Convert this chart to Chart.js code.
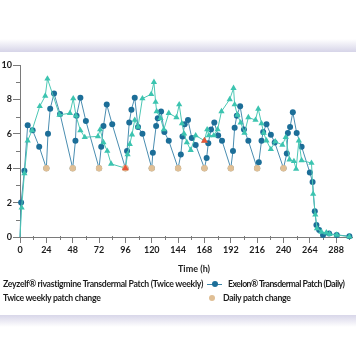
<!DOCTYPE html>
<html><head><meta charset="utf-8">
<script src="https://cdn.jsdelivr.net/npm/chart.js@4"></script>
<style>
html,body{margin:0;padding:0;background:#fff;width:356px;height:364px;overflow:hidden;position:relative;font-family:Lato,"Open Sans",sans-serif;}
#bandTop{position:absolute;left:0;top:39px;width:356px;height:13px;background:linear-gradient(#ffffff,#d6d4e8);}
#bandBot{position:absolute;left:0;top:315px;width:356px;height:12px;background:linear-gradient(#d8d6e9,#ffffff);}
#wrap{position:absolute;left:0;top:0;width:356px;height:364px;}
.t{position:absolute;white-space:nowrap;font-weight:bold;color:#1d1d1d;font-size:8.7px;line-height:10px;letter-spacing:-0.3px;}
.mk{position:absolute;}
</style></head><body>
<div id="bandTop"></div>
<div id="bandBot"></div>
<div id="wrap"><canvas id="c" width="356" height="364"></canvas></div>
<div class="t" style="left:178px;top:264px;font-size:9px;letter-spacing:0">Time (h)</div>
<div class="t" style="left:3px;top:279px">Zeyzelf® rivastigmine Transdermal Patch (Twice weekly)</div>
<div class="mk" style="left:207px;top:283.5px;width:15px;height:1px;background:#3f86a8"></div>
<div class="mk" style="left:211.5px;top:281px;width:6px;height:6px;border-radius:50%;background:#1c6e98"></div>
<div class="t" style="left:228px;top:279px;letter-spacing:-0.5px">Exelon® Transdermal Patch (Daily)</div>
<div class="t" style="left:3px;top:293px">Twice weekly patch change</div>
<div class="mk" style="left:208.5px;top:295px;width:6px;height:6px;border-radius:50%;background:#e0bf95"></div>
<div class="t" style="left:223px;top:293px">Daily patch change</div>
<script>
const zeyTimes = [0,1.5,4,7,11,18,23,25,36,45.5,48.5,51,55,59,71,73,76,79.5,83,96,98,100,102,104.5,107.5,111.5,119.5,122,123.5,124.5,128,131,135.5,142.5,145,147.5,149.5,152,155.5,160,168,170.5,172,176.5,180,183.5,191,194.5,195.5,198,201,204.5,208,214.5,217,220,222,224.5,228.5,232.5,239,242,245.5,249.5,251.5,254,256.5,265.5,267,269,270.5,274.5,279,282,288.5,300];
const zeyValues = [0,1.7,3.7,5.6,6.2,7.6,8.2,9.2,7.1,7.2,8.05,7.05,6.2,5.8,5.85,6.25,5.5,5.0,4.25,4.0,4.8,5.4,5.95,6.8,6.4,8.05,8.3,9.0,7.85,7.3,6.9,6.25,7.2,6.95,7.7,6.6,6.0,5.5,5.05,5.9,5.6,6.25,5.9,5.9,6.25,7.3,8.0,8.65,7.7,7.1,6.65,6.05,6.95,6.8,7.45,6.6,6.05,5.6,5.1,5.55,5.35,5.8,4.5,4.4,3.95,5.6,4.45,4.3,2.5,1.3,0.5,0.3,0.25,0.17,0.12,0.02];
const exTimes = [0,1,4,7,11.5,17.5,24,25.5,27.5,31,36.5,48,50.5,51.5,55,60,72,74,76,79,84,96,97.5,99.5,101.5,104.5,107.5,111.5,120,121,124,125.5,128.5,131.5,135.5,144,146.5,148,150,153,156.5,160,168,170,171.5,174,177,180.5,184,192,194,195.5,197.5,200.5,204,208,216,217.5,220,221.5,224.5,228.5,232,240,243,244,246,248.5,252,256.5,264,266.5,268.5,270,272.5,276,281.5,288.5,300];
const exValues = [0,2.0,3.85,6.5,6.2,5.25,4.0,6.0,7.45,8.35,7.15,4.0,5.6,7.05,8.1,6.75,4.0,5.25,6.45,7.7,6.55,4.0,5.0,6.65,7.4,8.1,6.4,6.0,4.0,4.9,6.45,6.9,7.3,6.1,5.6,4.0,4.8,5.85,6.55,6.8,5.75,5.35,4.0,4.6,5.45,6.25,6.65,5.9,5.6,4.0,5.0,6.35,7.05,7.6,6.25,5.6,4.0,4.35,5.6,6.1,6.55,5.95,5.5,4.0,4.85,6.05,6.4,7.25,6.05,5.25,3.75,3.2,1.5,0.7,0.4,0.12,0.2,0.12,0.05];
const dailyTimes = [24,48,72,96,120,144,168,192,216,240];
const dailyValues = [4,4,4,4,4,4,4,4,4,4];
const twiceTimes = [96,168];
const twiceValues = [4.0,5.6];
const xMajorStep = 24;
const yMajorStep = 2;

function pts(xs, ys){ return xs.map((x,i)=>({x:x,y:ys[i]})); }

const minorTicks = {
  id:'minorTicks',
  beforeDatasetsDraw(chart){
    const c = chart.ctx, xs = chart.scales.x, ys = chart.scales.y;
    c.save(); c.strokeStyle='#7a7a7a'; c.lineWidth=1;
    for(let v=12; v<=xs.max; v+=24){
      const p = Math.round(xs.getPixelForValue(v))+0.5;
      c.beginPath(); c.moveTo(p, ys.bottom-1); c.lineTo(p, ys.bottom+3); c.stroke();
    }
    for(let v=1; v<10; v+=2){
      const p = Math.round(ys.getPixelForValue(v))+0.5;
      c.beginPath(); c.moveTo(xs.left-4, p); c.lineTo(xs.left, p); c.stroke();
    }
    c.restore();
  }
};

const tickFont = {family:'Lato', size:9, weight:'bold'};
new Chart(document.getElementById('c'), {
  type:'line',
  data:{datasets:[
    {label:'Twice weekly patch change', data:pts(twiceTimes,twiceValues), showLine:false, pointStyle:'triangle', pointRadius:4, pointBorderWidth:0, backgroundColor:'#e8573a', borderColor:'#e8573a', order:0, clip:false},
    {label:'Daily patch change', data:pts(dailyTimes,dailyValues), showLine:false, pointStyle:'circle', pointRadius:3.2, pointBorderWidth:0, backgroundColor:'#e0bf95', borderColor:'#e0bf95', order:1, clip:false},
    {label:'Zeyzelf', data:pts(zeyTimes,zeyValues), borderColor:'#4cc7b4', backgroundColor:'#3cc4b0', borderWidth:1, pointStyle:'triangle', pointRadius:c=>c.dataIndex===0?0:3.6, pointBorderWidth:0, tension:0, order:2, clip:false},
    {label:'Exelon', data:pts(exTimes,exValues), borderColor:'#4a8db0', backgroundColor:'#1c6e98', borderWidth:1, pointStyle:'circle', pointRadius:c=>c.dataIndex===0?0:3, pointBorderWidth:0, tension:0, order:3, clip:false}
  ]},
  options:{
    responsive:false, animation:false, events:[],
    layout:{padding:{top:65,left:0,right:0,bottom:100}},
    plugins:{legend:{display:false}, tooltip:{enabled:false}},
    scales:{
      x:{type:'linear', min:0, max:302.4,
        afterFit(s){ s.height = 27; },
        ticks:{stepSize:xMajorStep, includeBounds:false, autoSkip:false, maxRotation:0, font:tickFont, color:'#1d1d1d', padding:2},
        grid:{drawOnChartArea:false, drawTicks:true, tickLength:6, color:'#7a7a7a', tickColor:'#7a7a7a'},
        border:{color:'#7a7a7a', width:1}
      },
      y:{type:'linear', min:0, max:10,
        afterFit(s){ s.width = 20; },
        ticks:{stepSize:yMajorStep, font:tickFont, color:'#1d1d1d', padding:1},
        grid:{drawOnChartArea:false, drawTicks:true, tickLength:7, color:'#7a7a7a', tickColor:'#7a7a7a'},
        border:{color:'#7a7a7a', width:1}
      }
    }
  },
  plugins:[minorTicks]
});
</script>
</body></html>
